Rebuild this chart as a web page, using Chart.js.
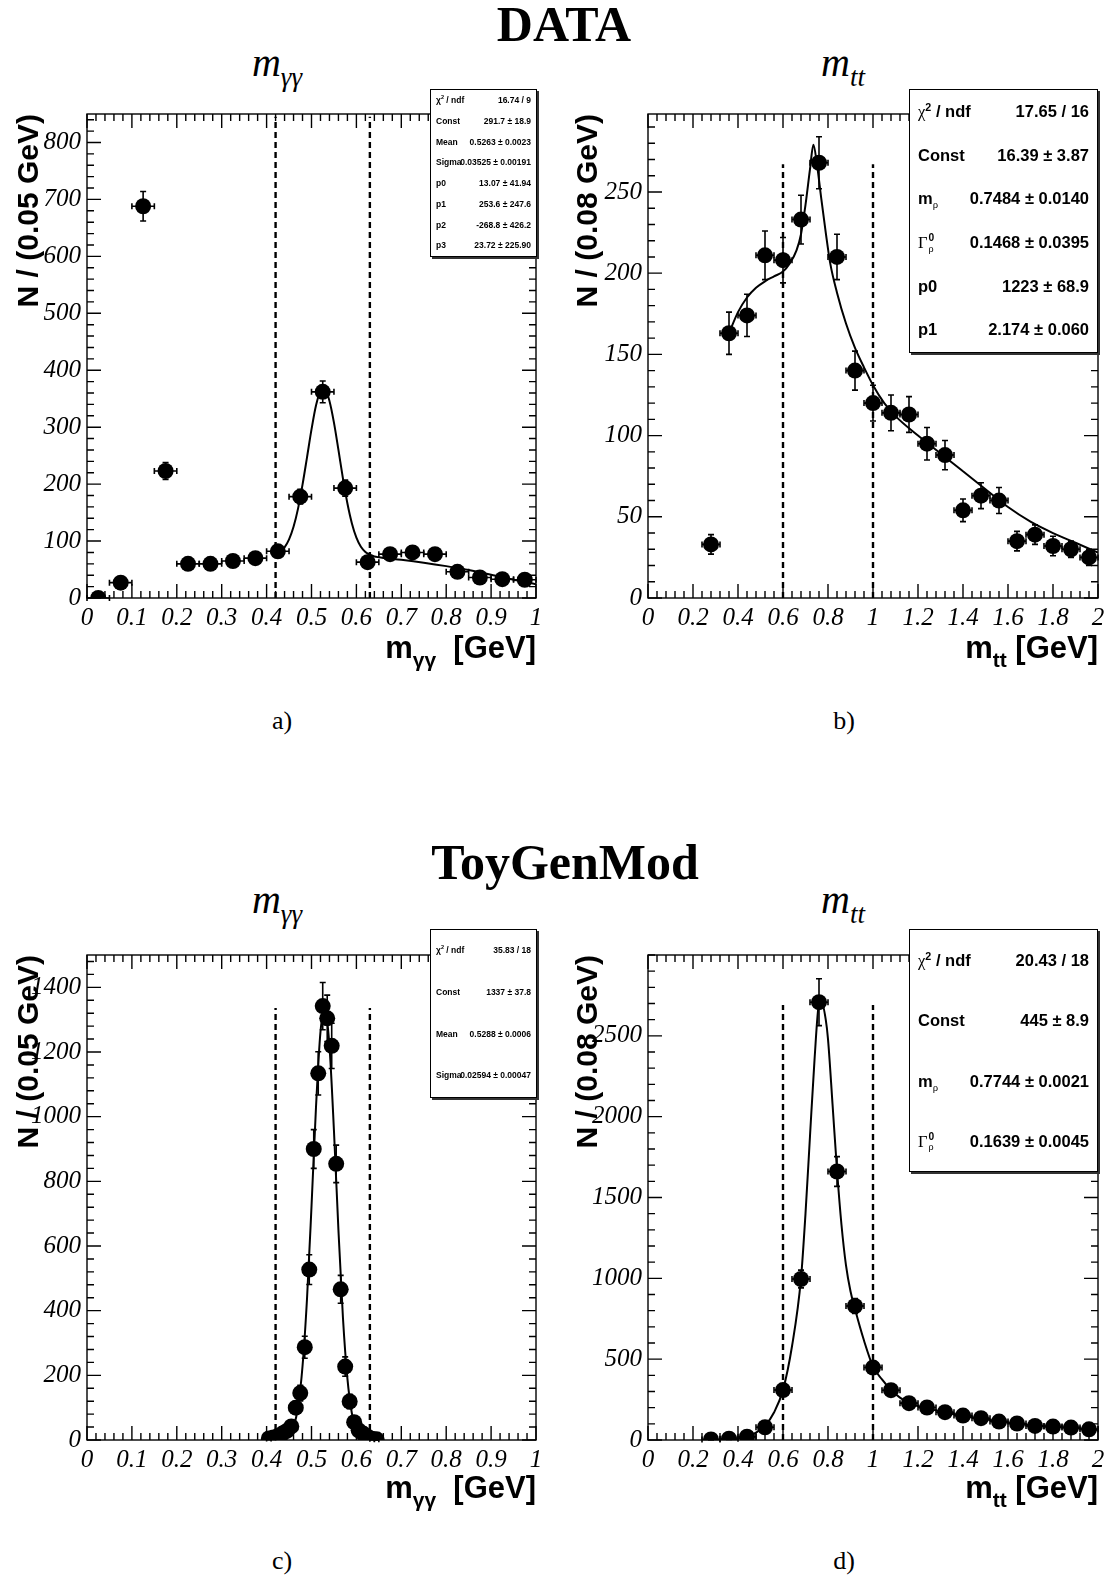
<!DOCTYPE html>
<html>
<head>
<meta charset="utf-8">
<script src="https://cdn.jsdelivr.net/npm/chart.js@4.4.1/dist/chart.umd.min.js"></script>
<style>
  html, body { margin: 0; padding: 0; background: #fff; }
  body { width: 1106px; height: 1579px; position: relative; overflow: hidden; font-family: 'Liberation Sans', Arial, sans-serif; color: #000; }
  canvas { position: absolute; }
  .title { position: absolute; font-family: 'Liberation Serif', serif; font-weight: bold; font-size: 50px; transform: translate(-50%, -50%); white-space: nowrap; line-height: 1; }
  .sub { position: absolute; font-family: 'Liberation Serif', serif; font-style: italic; font-size: 40px; transform: translate(-50%, -50%); white-space: nowrap; line-height: 1; }
  .sub sub { font-size: 27px; vertical-align: -10px; }
  .tag { position: absolute; font-family: 'Liberation Serif', serif; font-size: 26px; transform: translate(-50%, -50%); line-height: 1; }
  .xt { position: absolute; font-weight: bold; font-size: 31px; white-space: nowrap; transform: translate(-100%, -50%); line-height: 1; }
  .xt sub { font-size: 21px; vertical-align: -9px; }
  .stats { position: absolute; box-sizing: border-box; background: #fff; border: 1px solid #000; box-shadow: 2px 2px 0 #333; font-weight: bold; z-index: 5; }
  .row { position: absolute; left: 0; right: 0; white-space: nowrap; }
  .row .l { position: absolute; }
  .row .v { position: absolute; }
  .row sup, .row sub { font-size: 0.65em; line-height: 0; }
  .gr { font-family: 'Liberation Serif', serif; font-weight: normal; }
  .stk { display: inline-block; vertical-align: middle; line-height: 1; font-size: 0.62em; text-align: left; margin-left: 1px; }
  .stk span { display: block; }
</style>
</head>
<body>

<div class="title" style="left:564px; top:24px;">DATA</div>
<div class="sub" style="left:277px; top:67px;">m<sub>γγ</sub></div>
<div class="sub" style="left:843px; top:67px;">m<sub>tt</sub></div>
<div class="title" style="left:565px; top:862px;">ToyGenMod</div>
<div class="sub" style="left:277px; top:904px;">m<sub>γγ</sub></div>
<div class="sub" style="left:843px; top:904px;">m<sub>tt</sub></div>

<canvas id="pa" width="553" height="570" style="left:0px; top:100px;"></canvas>
<canvas id="pb" width="553" height="570" style="left:553px; top:100px;"></canvas>
<canvas id="pc" width="553" height="570" style="left:0px; top:930px;"></canvas>
<canvas id="pd" width="553" height="570" style="left:553px; top:930px;"></canvas>

<div class="xt" style="left:536px; top:651px;">m<sub>γγ</sub>&nbsp;&nbsp;[GeV]</div>
<div class="xt" style="left:1098px; top:651px;">m<sub>tt</sub> [GeV]</div>
<div class="xt" style="left:536px; top:1491px;">m<sub>γγ</sub>&nbsp;&nbsp;[GeV]</div>
<div class="xt" style="left:1098px; top:1491px;">m<sub>tt</sub> [GeV]</div>

<div class="tag" style="left:282px; top:721px;">a)</div>
<div class="tag" style="left:844px; top:721px;">b)</div>
<div class="tag" style="left:282px; top:1561px;">c)</div>
<div class="tag" style="left:844px; top:1561px;">d)</div>

<script>
// ---------- m_gamma_gamma, DATA (bins of 0.05 GeV) ----------
const binsA   = [0.025, 0.075, 0.125, 0.175, 0.225, 0.275, 0.325, 0.375, 0.425, 0.475,
                 0.525, 0.575, 0.625, 0.675, 0.725, 0.775, 0.825, 0.875, 0.925, 0.975];
const countsA = [0, 27, 688, 223, 60, 60, 65, 70, 82, 178, 362, 193, 63, 77, 80, 77, 46, 36, 33, 32];
const errA    = [0, 5, 26, 15, 8, 8, 8, 8, 9, 13, 19, 14, 8, 9, 9, 9, 7, 6, 6, 6];
const fitAx   = [0.42, 0.43, 0.44, 0.45, 0.46, 0.47, 0.48, 0.49, 0.50, 0.51, 0.52, 0.53, 0.54,
                 0.55, 0.56, 0.57, 0.58, 0.59, 0.60, 0.61, 0.62, 0.63, 0.64, 0.65, 0.66,
                 0.70, 0.75, 0.80, 0.85, 0.90, 0.95, 1.00];
const fitAy   = [77, 81, 89, 103, 125, 157, 199, 247, 296, 338, 363, 366, 346,
                 308, 260, 210, 166, 131, 106, 90, 81, 76, 73, 71.5, 70.4,
                 67, 62, 56, 49, 41, 32, 24];

// ---------- m_tt, DATA (bins of 0.08 GeV) ----------
const binsB   = [0.28, 0.36, 0.44, 0.52, 0.60, 0.68, 0.76, 0.84, 0.92, 1.00, 1.08,
                 1.16, 1.24, 1.32, 1.40, 1.48, 1.56, 1.64, 1.72, 1.80, 1.88, 1.96];
const countsB = [33, 163, 174, 211, 208, 233, 268, 210, 140, 120, 114,
                 113, 95, 88, 54, 63, 60, 35, 39, 32, 30, 25];
const errB    = [6, 13, 13, 15, 14, 15, 16, 14, 12, 11, 11, 11, 10, 9, 7, 8, 8, 6, 6, 6, 5, 5];
const fitBx   = [0.36, 0.40, 0.44, 0.48, 0.52, 0.56, 0.60, 0.63, 0.66, 0.68, 0.70, 0.72, 0.735,
                 0.75, 0.77, 0.79, 0.81, 0.84, 0.88, 0.92, 0.96, 1.00, 1.05, 1.10, 1.20,
                 1.30, 1.40, 1.50, 1.60, 1.70, 1.80, 1.90, 2.00];
const fitBy   = [163, 176, 185, 191, 195, 198, 201, 206, 214, 224, 242, 264, 279,
                 268, 246, 225, 206, 188, 169, 154, 142, 131, 120, 112, 100,
                 89, 78, 67, 56, 47, 40, 34, 28];

// ---------- m_gamma_gamma, ToyGenMod (bins of 0.01 GeV) ----------
const binsC   = [0.405, 0.415, 0.425, 0.435, 0.445, 0.455, 0.465, 0.475, 0.485, 0.495, 0.505, 0.515, 0.525,
                 0.535, 0.545, 0.555, 0.565, 0.575, 0.585, 0.595, 0.605, 0.615, 0.625, 0.635, 0.645];
const countsC = [5, 8, 12, 20, 28, 42, 100, 145, 287, 527, 900, 1134, 1342,
                 1304, 1219, 854, 466, 227, 119, 55, 30, 20, 10, 4, 2];
const errC    = [4, 6, 7, 9, 11, 13, 20, 24, 34, 46, 60, 67, 73, 72, 70, 58, 43, 30, 22, 15, 11, 9, 6, 4, 3];
const fitCx   = [0.40, 0.41, 0.42, 0.43, 0.44, 0.45, 0.46, 0.47, 0.48, 0.49, 0.50, 0.51, 0.52,
                 0.53, 0.54, 0.55, 0.56, 0.57, 0.58, 0.59, 0.60, 0.61, 0.62, 0.63, 0.64, 0.65];
const fitCy   = [0, 0, 0.2, 1, 4, 13, 40, 102, 228, 437, 722, 1029, 1262,
                 1336, 1218, 957, 649, 379, 190, 82, 31, 10, 3, 1, 0, 0];

// ---------- m_tt, ToyGenMod (bins of 0.08 GeV) ----------
const binsD   = binsB;
const countsD = [3, 8, 20, 79, 309, 996, 2708, 1661, 829, 448, 308,
                 228, 201, 172, 151, 135, 114, 102, 87, 83, 77, 66];
const errD    = [2, 4, 6, 12, 25, 55, 145, 92, 46, 27, 20, 16, 15, 13, 12, 11, 10, 9, 8, 8, 8, 7];
const fitDx   = [0.28, 0.36, 0.44, 0.48, 0.52, 0.56, 0.60, 0.64, 0.68, 0.70, 0.72, 0.74, 0.76, 0.77,
                 0.79, 0.80, 0.82, 0.84, 0.86, 0.88, 0.90, 0.92, 0.96, 1.00, 1.04, 1.08, 1.12, 1.16,
                 1.24, 1.32, 1.40, 1.48, 1.56, 1.64, 1.72, 1.80, 1.88, 1.96, 2.00];
const fitDy   = [0, 5, 22, 45, 88, 170, 310, 580, 1000, 1400, 1880, 2350, 2700, 2715,
                 2600, 2480, 2080, 1670, 1330, 1080, 920, 810, 615, 455, 375, 310, 262, 228,
                 197, 170, 150, 132, 115, 101, 89, 82, 75, 68, 64];

// ---------- tick labels ----------
const xTicksGG = [0, 0.1, 0.2, 0.3, 0.4, 0.5, 0.6, 0.7, 0.8, 0.9, 1];
const xTicksTT = [0, 0.2, 0.4, 0.6, 0.8, 1, 1.2, 1.4, 1.6, 1.8, 2];
const yTicksA  = [0, 100, 200, 300, 400, 500, 600, 700, 800];
const yTicksB  = [0, 50, 100, 150, 200, 250];
const yTicksC  = [0, 200, 400, 600, 800, 1000, 1200, 1400];
const yTicksD  = [0, 500, 1000, 1500, 2000, 2500];

// ---------- mass window cuts ----------
const cutsGG = [0.42, 0.63];
const cutsTT = [0.6, 1.0];

// ---------- fit statistics ----------
const statsA = [['χ<sup>2</sup> / ndf', '16.74 / 9'], ['Const', '291.7 ± 18.9'], ['Mean', '0.5263 ± 0.0023'],
                ['Sigma', '0.03525 ± 0.00191'], ['p0', '13.07 ± 41.94'], ['p1', '253.6 ± 247.6'],
                ['p2', '-268.8 ± 426.2'], ['p3', '23.72 ± 225.90']];
const statsB = [['<span class="gr">χ</span><sup>2</sup> / ndf', '17.65 / 16'], ['Const', '16.39 ± 3.87'],
                ['m<sub class="gr">ρ</sub>', '0.7484 ± 0.0140'],
                ['<span class="gr">Γ</span><span class="stk"><span>0</span><span class="gr">ρ</span></span>', '0.1468 ± 0.0395'],
                ['p0', '1223 ± 68.9'], ['p1', '2.174 ± 0.060']];
const statsC = [['χ<sup>2</sup> / ndf', '35.83 / 18'], ['Const', '1337 ± 37.8'], ['Mean', '0.5288 ± 0.0006'],
                ['Sigma', '0.02594 ± 0.00047']];
const statsD = [['<span class="gr">χ</span><sup>2</sup> / ndf', '20.43 / 18'], ['Const', '445 ± 8.9'],
                ['m<sub class="gr">ρ</sub>', '0.7744 ± 0.0021'],
                ['<span class="gr">Γ</span><span class="stk"><span>0</span><span class="gr">ρ</span></span>', '0.1639 ± 0.0045']];

Chart.defaults.color = '#000';
Chart.defaults.font.family = "'Liberation Sans', Arial, sans-serif";

// frame, inward ticks on all four sides, error bars and cut lines
const rootFrame = {
  id: 'rootFrame',
  beforeDatasetsDraw(chart, args, o) {
    const { ctx, scales: { x, y } } = chart;
    ctx.save();
    ctx.strokeStyle = '#000';
    ctx.lineWidth = 2.4;
    ctx.setLineDash([6, 4]);
    o.cuts.forEach(c => {
      const px = x.getPixelForValue(c);
      ctx.beginPath();
      ctx.moveTo(px, y.getPixelForValue(0));
      ctx.lineTo(px, y.getPixelForValue(o.cutTop));
      ctx.stroke();
    });
    ctx.setLineDash([]);
    ctx.lineWidth = 1.6;
    const cap = 3;
    o.bins.forEach((b, i) => {
      const v = o.counts[i], e = o.errs[i];
      const px = x.getPixelForValue(b), py = y.getPixelForValue(v);
      const x0 = x.getPixelForValue(b - o.half), x1 = x.getPixelForValue(b + o.half);
      ctx.beginPath();
      ctx.moveTo(x0, py); ctx.lineTo(x1, py);
      ctx.moveTo(x0, py - cap); ctx.lineTo(x0, py + cap);
      ctx.moveTo(x1, py - cap); ctx.lineTo(x1, py + cap);
      if (e > 0) {
        const y0 = y.getPixelForValue(v - e), y1 = y.getPixelForValue(v + e);
        ctx.moveTo(px, y0); ctx.lineTo(px, y1);
        ctx.moveTo(px - cap, y0); ctx.lineTo(px + cap, y0);
        ctx.moveTo(px - cap, y1); ctx.lineTo(px + cap, y1);
      }
      ctx.stroke();
    });
    ctx.restore();
  },
  afterDraw(chart, args, o) {
    const { ctx, chartArea: a, scales: { x, y } } = chart;
    ctx.save();
    ctx.strokeStyle = '#000';
    ctx.lineWidth = 1.4;
    ctx.strokeRect(a.left, a.top, a.right - a.left, a.bottom - a.top);
    const major = 14, minor = 7;
    const nx = Math.round((x.max - x.min) / o.xMinor);
    ctx.beginPath();
    for (let k = 0; k <= nx; k++) {
      const v = x.min + k * o.xMinor;
      const isMajor = o.xMajor.some(m => Math.abs(m - v) < 1e-6);
      const len = isMajor ? major : minor;
      const px = x.getPixelForValue(v);
      ctx.moveTo(px, a.bottom); ctx.lineTo(px, a.bottom - len);
      ctx.moveTo(px, a.top); ctx.lineTo(px, a.top + len);
    }
    const ny = Math.floor((y.max - y.min) / o.yMinor + 1e-6);
    for (let k = 0; k <= ny; k++) {
      const v = y.min + k * o.yMinor;
      const isMajor = o.yMajor.some(m => Math.abs(m - v) < 1e-6);
      const len = isMajor ? major : minor;
      const py = y.getPixelForValue(v);
      ctx.moveTo(a.left, py); ctx.lineTo(a.left + len, py);
      ctx.moveTo(a.right, py); ctx.lineTo(a.right - len, py);
    }
    ctx.stroke();
    ctx.restore();
  }
};

const fmt = v => String(+(+v).toFixed(2));
const noEdgePadding = s => { s.paddingTop = 0; s.paddingBottom = 0; s.paddingLeft = 0; s.paddingRight = 0; };

function makePanel(id, cfg) {
  const pts = cfg.bins.map((b, i) => ({ x: b, y: cfg.counts[i] }));
  const curve = cfg.fitX.map((v, i) => ({ x: v, y: cfg.fitY[i] }));
  return new Chart(document.getElementById(id), {
    type: 'scatter',
    data: {
      datasets: [
        { data: pts, pointRadius: 8, pointHoverRadius: 8, pointBackgroundColor: '#000', pointBorderColor: '#000', pointBorderWidth: 0, showLine: false },
        { data: curve, showLine: true, borderColor: '#000', borderWidth: 2, pointRadius: 0, fill: false, cubicInterpolationMode: 'monotone' }
      ]
    },
    options: {
      responsive: false,
      animation: false,
      devicePixelRatio: 1,
      events: [],
      layout: { padding: cfg.padding },
      plugins: {
        legend: { display: false },
        tooltip: { enabled: false },
        rootFrame: {
          bins: cfg.bins, counts: cfg.counts, errs: cfg.errs, half: cfg.half,
          cuts: cfg.cuts, cutTop: cfg.cutTop,
          xMajor: cfg.xTicks, yMajor: cfg.yTicks, xMinor: cfg.xMinor, yMinor: cfg.yMinor
        }
      },
      scales: {
        x: {
          type: 'linear', min: 0, max: cfg.xMax,
          grid: { display: false, drawTicks: false },
          border: { display: false },
          afterBuildTicks: s => { s.ticks = cfg.xTicks.map(v => ({ value: v })); },
          afterFit: s => { s.height = cfg.xHeight; noEdgePadding(s); },
          ticks: { autoSkip: false, maxRotation: 0, padding: 5, callback: fmt,
                   font: { family: "'Liberation Serif', serif", style: 'italic', size: 25 } }
        },
        y: {
          type: 'linear', min: 0, max: cfg.yMax,
          grid: { display: false, drawTicks: false },
          border: { display: false },
          afterBuildTicks: s => { s.ticks = cfg.yTicks.map(v => ({ value: v })); },
          afterFit: s => { s.width = cfg.yWidth; noEdgePadding(s); },
          ticks: { autoSkip: false, padding: 6, callback: fmt,
                   font: { family: "'Liberation Serif', serif", style: 'italic', size: 25 } },
          title: { display: true, text: cfg.yTitle, align: 'end',
                   padding: { top: cfg.yTitlePad, bottom: 0 },
                   font: { family: "'Liberation Sans', Arial, sans-serif", weight: 'bold', size: 30, lineHeight: 1.2 } }
        }
      }
    },
    plugins: [rootFrame]
  });
}

makePanel('pa', { bins: binsA, counts: countsA, errs: errA, half: 0.025, fitX: fitAx, fitY: fitAy,
  xMax: 1, yMax: 850, xTicks: xTicksGG, yTicks: yTicksA, xMinor: 0.02, yMinor: 20,
  cuts: cutsGG, cutTop: 845, yTitle: 'N / (0.05 GeV)', yTitlePad: 12,
  padding: { left: 0, top: 14, right: 17, bottom: 20 }, yWidth: 87, xHeight: 52 });

makePanel('pb', { bins: binsB, counts: countsB, errs: errB, half: 0.04, fitX: fitBx, fitY: fitBy,
  xMax: 2, yMax: 298, xTicks: xTicksTT, yTicks: yTicksB, xMinor: 0.04, yMinor: 10,
  cuts: cutsTT, cutTop: 267, yTitle: 'N / (0.08 GeV)', yTitlePad: 18,
  padding: { left: 0, top: 14, right: 8, bottom: 20 }, yWidth: 95, xHeight: 52 });

makePanel('pc', { bins: binsC, counts: countsC, errs: errC, half: 0.005, fitX: fitCx, fitY: fitCy,
  xMax: 1, yMax: 1500, xTicks: xTicksGG, yTicks: yTicksC, xMinor: 0.02, yMinor: 40,
  cuts: cutsGG, cutTop: 1336, yTitle: 'N / (0.05 GeV)', yTitlePad: 12,
  padding: { left: 0, top: 25, right: 17, bottom: 20 }, yWidth: 87, xHeight: 40 });

makePanel('pd', { bins: binsD, counts: countsD, errs: errD, half: 0.04, fitX: fitDx, fitY: fitDy,
  xMax: 2, yMax: 3000, xTicks: xTicksTT, yTicks: yTicksD, xMinor: 0.04, yMinor: 100,
  cuts: cutsTT, cutTop: 2690, yTitle: 'N / (0.08 GeV)', yTitlePad: 18,
  padding: { left: 0, top: 25, right: 8, bottom: 20 }, yWidth: 95, xHeight: 40 });

// fit statistics boxes
function statsBox(rows, box) {
  const d = document.createElement('div');
  d.className = 'stats';
  d.style.left = box.left + 'px'; d.style.top = box.top + 'px';
  d.style.width = box.width + 'px'; d.style.height = box.height + 'px';
  d.style.fontSize = box.font + 'px';
  const rh = (box.height - 2) / rows.length;
  rows.forEach((r, i) => {
    const row = document.createElement('div');
    row.className = 'row';
    row.style.top = (i * rh) + 'px';
    row.style.height = rh + 'px';
    row.style.lineHeight = rh + 'px';
    row.innerHTML = '<span class="l" style="left:' + box.pad + 'px">' + r[0] + '</span>' +
                    '<span class="v" style="right:' + box.pad + 'px">' + r[1] + '</span>';
    d.appendChild(row);
  });
  document.body.appendChild(d);
}
statsBox(statsA, { left: 430, top: 89, width: 107, height: 168, font: 8.5, pad: 5 });
statsBox(statsB, { left: 909, top: 89, width: 189, height: 264, font: 16.5, pad: 8 });
statsBox(statsC, { left: 430, top: 929, width: 107, height: 169, font: 8.5, pad: 5 });
statsBox(statsD, { left: 909, top: 929, width: 189, height: 243, font: 16.5, pad: 8 });
</script>
</body>
</html>
